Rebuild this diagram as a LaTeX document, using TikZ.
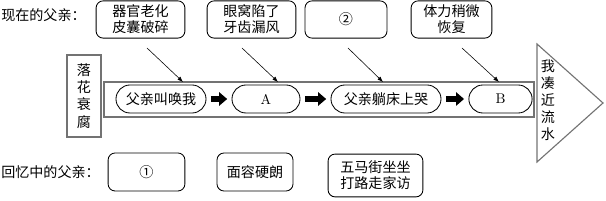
\documentclass[tikz,border=0pt]{standalone}
\usepackage{fontspec}
\newfontfamily\cjk{Noto Sans CJK SC}
\usepackage{tikz}
\usetikzlibrary{positioning,arrows.meta,calc}

\tikzset{
  every node/.style={font=\cjk\fontsize{10pt}{11.5pt}\selectfont, inner sep=0pt},
  textbox/.style={draw, line width=0.6pt, rounded corners=5pt, align=center, minimum height=0.93cm},
  pill/.style={draw, line width=0.6pt, rounded corners=0.35cm, minimum height=0.7cm},
  grayframe/.style={draw=black!55, line width=1.2pt},
  thinarrow/.style={-{Latex[length=4pt,width=3pt]}, line width=0.4pt},
  bigarrow/.style={-{Triangle[length=0.2cm,width=0.33cm]}, line width=0.15cm, shorten <=0.11cm, shorten >=0.11cm}
}

\begin{document}
\begin{tikzpicture}[x=0.025cm, y=-0.025cm]
\useasboundingbox (0,0) rectangle (606,201);

% Present father
\node[anchor=west] (nowlbl) at (1,15) {现在的父亲：};
\node[textbox, minimum width=2.22cm] (now1) at (140.5,19.5) {器官老化\\皮囊破碎};
\node[textbox, minimum width=2.22cm] (now2) at (251.5,19.5) {眼窝陷了\\牙齿漏风};
\node[textbox, minimum width=2.05cm] (now3) at (346,19.5) {②};
\node[textbox, minimum width=2.02cm] (now4) at (451.5,19.5) {体力稍微\\恢复};

% Main line
\draw[grayframe] (104,82) rectangle (534,117);
\node[grayframe, minimum width=0.85cm, minimum height=2.05cm, align=center,
  font=\cjk\fontsize{10pt}{12.3pt}\selectfont] (fall) at (84,96) {落\\花\\衰\\腐};

\node[pill, minimum width=2.25cm] (call) at (161,99) {父亲叫唤我};
\node[pill, minimum width=1.7cm] (a) at (266,99) {\rmfamily A};
\node[pill, minimum width=2.75cm] (cry) at (386,99) {父亲躺床上哭};
\node[pill, minimum width=1.58cm] (b) at (500.5,99) {\rmfamily B};

\draw[bigarrow] (call) -- (a);
\draw[bigarrow] (a) -- (cry);
\draw[bigarrow] (cry) -- (b);

% Thin arrows down to the line
\coordinate (s1) at (147,48); \coordinate (e1) at (183,82);
\coordinate (s2) at (242,48); \coordinate (e2) at (278,82);
\coordinate (s3) at (348,48); \coordinate (e3) at (383,82);
\coordinate (s4) at (462,48); \coordinate (e4) at (499,82);
\foreach \i in {1,...,4}
  \draw[thinarrow] (s\i) -- (e\i);

% Flowing water
\draw[draw=black!55, line width=0.8pt] (537,44) -- (603,103) -- (537,162) -- cycle;
\node[align=center, font=\cjk\fontsize{10pt}{12pt}\selectfont] (water) at (548,100) {我\\凑\\近\\流\\水};

% Remembered father
\node[anchor=west] (memlbl) at (1,172) {回忆中的父亲：};
\node[textbox, minimum width=1.92cm, minimum height=0.95cm] (mem1) at (146.5,172) {①};
\node[textbox, minimum width=1.9cm, minimum height=0.95cm] (mem2) at (255,172) {面容硬朗};
\node[textbox, minimum width=2.37cm, minimum height=1.07cm] (mem3) at (375.5,175.5) {五马街坐坐\\打路走家访};
\end{tikzpicture}
\end{document}
